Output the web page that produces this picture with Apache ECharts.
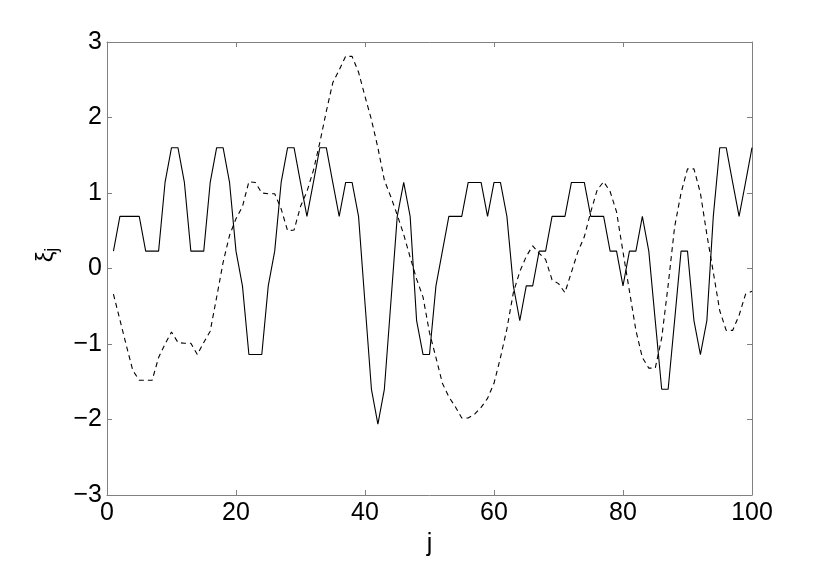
<!DOCTYPE html>
<html>
<head>
<meta charset="utf-8">
<script src="https://cdn.jsdelivr.net/npm/echarts@6/dist/echarts.min.js"></script>
<style>html,body{margin:0;padding:0;background:#fff}#c{width:830px;height:562px}</style>
</head>
<body>
<div id="c"></div>
<script>
var jValues = [];
for (var k = 1; k <= 100; k++) jValues.push(k);

var solidSeries = [
  0.23, 0.69, 0.69, 0.69, 0.69, 0.23, 0.23, 0.23, 1.14, 1.6,
  1.6, 1.14, 0.23, 0.23, 0.23, 1.14, 1.6, 1.6, 1.14, 0.23,
  -0.23, -1.14, -1.14, -1.14, -0.23, 0.23, 1.14, 1.6, 1.6, 1.14,
  0.69, 1.14, 1.6, 1.6, 1.14, 0.69, 1.14, 1.14, 0.69, -0.46,
  -1.6, -2.06, -1.6, -0.46, 0.69, 1.14, 0.69, -0.69, -1.14, -1.14,
  -0.23, 0.23, 0.69, 0.69, 0.69, 1.14, 1.14, 1.14, 0.69, 1.14,
  1.14, 0.69, -0.23, -0.69, -0.23, -0.23, 0.23, 0.23, 0.69, 0.69,
  0.69, 1.14, 1.14, 1.14, 0.69, 0.69, 0.69, 0.23, 0.23, -0.23,
  0.23, 0.23, 0.69, 0.23, -0.69, -1.6, -1.6, -0.69, 0.23, 0.23,
  -0.69, -1.14, -0.69, 0.69, 1.6, 1.6, 1.14, 0.69, 1.14, 1.6
];

var dashedSeries = [
  -0.34, -0.68, -1.02, -1.35, -1.48, -1.48, -1.48, -1.18, -1.0, -0.84,
  -0.98, -0.99, -0.99, -1.14, -0.98, -0.83, -0.38, 0.08, 0.44, 0.66,
  0.82, 1.15, 1.14, 1.0, 0.99, 0.99, 0.79, 0.5, 0.51, 0.82,
  1.02, 1.3, 1.67, 2.08, 2.46, 2.63, 2.81, 2.81, 2.6, 2.28,
  1.97, 1.6, 1.17, 0.95, 0.71, 0.45, 0.15, -0.14, -0.38, -0.85,
  -1.18, -1.52, -1.7, -1.83, -1.98, -1.98, -1.93, -1.84, -1.72, -1.52,
  -1.18, -0.8, -0.32, -0.04, 0.16, 0.3, 0.2, 0.12, -0.15, -0.2,
  -0.32, -0.05, 0.22, 0.42, 0.75, 1.04, 1.15, 1.02, 0.75, 0.22,
  -0.3, -0.82, -1.18, -1.32, -1.32, -0.92, -0.22, 0.55, 1.0, 1.32,
  1.32, 1.0, 0.45, -0.05, -0.56, -0.82, -0.82, -0.62, -0.34, -0.3
];

var xTicks = [0, 20, 40, 60, 80, 100];
var yTicks = [-3, -2, -1, 0, 1, 2, 3];
var xName = 'j';
var yNameMain = 'ξ';
var yNameSub = 'j';

function pairs(xs, ys) { return xs.map(function (x, i) { return [x, ys[i]]; }); }

var axisGray = '#808080';
var fontFam = '"Liberation Sans", Arial, Helvetica, sans-serif';
var fs = 25;

var chart = echarts.init(document.getElementById('c'), null, {renderer: 'canvas'});
var baseX = {
  type: 'value', min: xTicks[0], max: xTicks[xTicks.length - 1], interval: 20,
  axisLine: {show: true, onZero: false, lineStyle: {color: axisGray, width: 1}},
  axisTick: {show: true, inside: true, length: 5, lineStyle: {color: axisGray}},
  splitLine: {show: false}
};
var baseY = {
  type: 'value', min: yTicks[0], max: yTicks[yTicks.length - 1], interval: 1,
  axisLine: {show: true, onZero: false, lineStyle: {color: axisGray, width: 1}},
  axisTick: {show: true, inside: true, length: 5, lineStyle: {color: axisGray}},
  splitLine: {show: false}
};

chart.setOption({
  animation: false,
  backgroundColor: '#fff',
  grid: {left: 107, right: 78, top: 42, bottom: 63, containLabel: false},
  graphic: [{
    type: 'text', x: 46, y: 255, rotation: Math.PI / 2,
    style: {
      text: '{a|' + yNameMain + '}{b|' + yNameSub + '}',
      align: 'center', verticalAlign: 'middle',
      rich: {
        a: {fontSize: 24, fontFamily: fontFam, fill: '#000'},
        b: {fontSize: 18, fontFamily: fontFam, fill: '#000', padding: [12, 0, 0, 0]}
      }
    }
  }],
  xAxis: [
    Object.assign({}, baseX, {
      position: 'bottom',
      name: xName, nameLocation: 'middle', nameGap: 37,
      nameTextStyle: {color: '#000', fontSize: fs, fontFamily: fontFam},
      axisLabel: {show: true, margin: 6, color: '#000', fontSize: fs, fontFamily: fontFam}
    }),
    Object.assign({}, baseX, {position: 'top', axisLabel: {show: false}})
  ],
  yAxis: [
    Object.assign({}, baseY, {
      position: 'left',
      axisLabel: {show: true, margin: 5, color: '#000', fontSize: fs, fontFamily: fontFam,
        formatter: function (v) { return String(v).replace('-', '\u2212'); }}
    }),
    Object.assign({}, baseY, {position: 'right', axisLabel: {show: false}})
  ],
  series: [
    {
      type: 'line', xAxisIndex: 0, yAxisIndex: 0, data: pairs(jValues, solidSeries),
      symbol: 'none', lineStyle: {color: '#000', width: 1.1}
    },
    {
      type: 'line', xAxisIndex: 0, yAxisIndex: 0, data: pairs(jValues, dashedSeries),
      symbol: 'none', lineStyle: {color: '#000', width: 1.1, type: [5, 4]}
    }
  ]
});
</script>
</body>
</html>
